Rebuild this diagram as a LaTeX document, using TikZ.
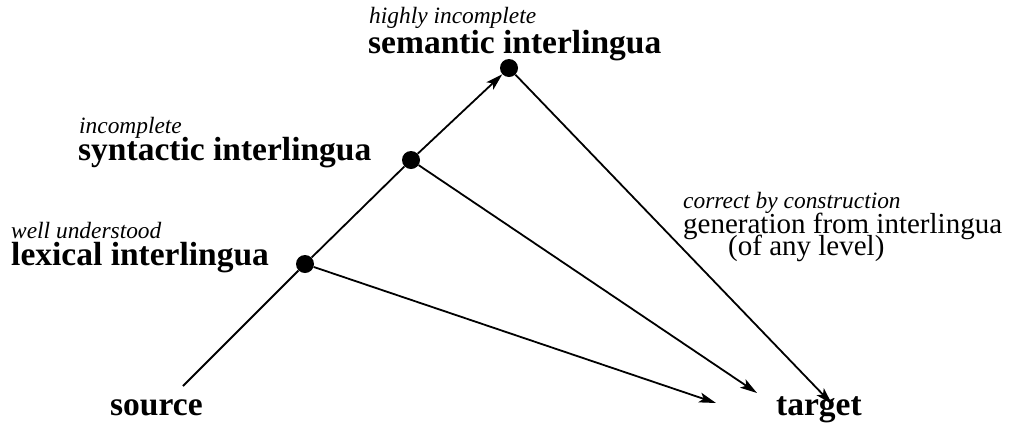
\documentclass[tikz,border=0pt]{standalone}
\usepackage{fontspec}
\IfFontExistsTF{LiberationSerif-Italic.ttf}{%
  \setmainfont{LiberationSerif}[Extension=.ttf,UprightFont=*-Regular,BoldFont=*-Bold,ItalicFont=*-Italic,BoldItalicFont=*-BoldItalic]}{%
  \setmainfont{Liberation Serif}}
\usetikzlibrary{arrows.meta}
\begin{document}
\begin{tikzpicture}[x=1pt,y=-1pt,
  dot/.style={circle,fill=black,inner sep=0pt,minimum size=18pt},
  conn/.style={line width=1.8pt},
  arr/.style={conn,-{Stealth[length=17pt,width=10pt,inset=4pt]}},
  boldlab/.style={anchor=base west,inner sep=0pt,font=\fontsize{33.5}{35}\selectfont\bfseries},
  itlab/.style={anchor=base west,inner sep=0pt,font=\fontsize{23.4}{25}\selectfont\itshape},
  reglab/.style={anchor=base west,inner sep=0pt,font=\fontsize{29}{31}\selectfont}]
\useasboundingbox (0,0) rectangle (1018,424);
% dots
\node[dot] (lex) at (305,264) {};
\node[dot] (syn) at (411,160) {};
\node[dot] (sem) at (509,68) {};
% free ends
\coordinate (src) at (183,386);
\coordinate (t1) at (716,403);
\coordinate (t2) at (757,393);
\coordinate (t3) at (832,404);
% labels
\node[itlab] (semit) at (369,23) {highly incomplete};
\node[boldlab] (semlab) at (368,53) {semantic interlingua};
\node[itlab] (synit) at (79,133) {incomplete};
\node[boldlab] (synlab) at (78,160) {syntactic interlingua};
\node[itlab] (lexit) at (11,238) {well understood};
\node[boldlab] (lexlab) at (11,265) {lexical interlingua};
\node[itlab] (genit) at (683,208) {correct by construction};
\node[reglab] (genlab) at (683,233) {generation from interlingua};
\node[reglab] (genlev) at (728,255) {(of any level)};
\node[boldlab] (source) at (110,415) {source};
\node[boldlab] (target) at (776,415) {target};
% connectors
\draw[conn] (src) -- (lex) -- (syn);
\draw[arr] (syn) -- (sem);
\draw[arr] (lex) -- (t1);
\draw[arr] (syn) -- (t2);
\draw[arr] (sem) -- (t3);
\end{tikzpicture}
\end{document}
